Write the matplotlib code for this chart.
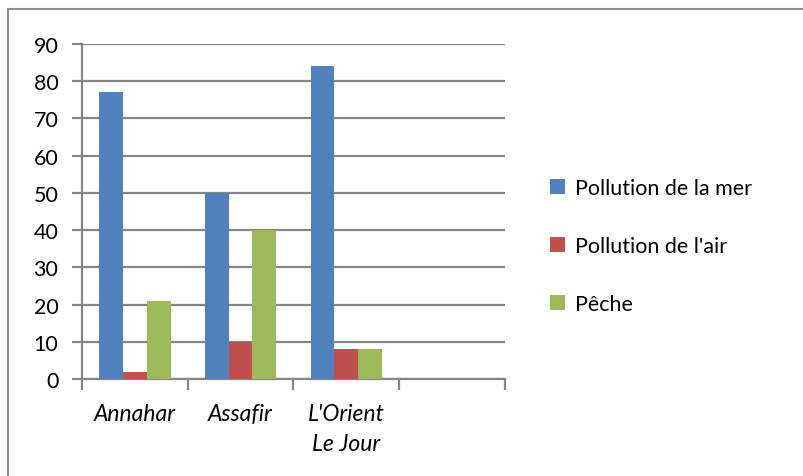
import matplotlib
matplotlib.use("Agg")
import matplotlib.pyplot as plt
import numpy as np
from matplotlib.patches import Rectangle

categories = ["Annahar", "Assafir", "L'Orient\nLe Jour", ""]
series_names = ["Pollution de la mer", "Pollution de l'air", "Pêche"]
pollution_mer = [77, 50, 84, 0]
pollution_air = [2, 10, 8, 0]
peche = [21, 40, 8, 0]
colors = ["#4F81BD", "#C0504D", "#9BBB59"]

plt.rcParams['font.family'] = ['Lato', 'DejaVu Sans']

fig = plt.figure(figsize=(8.04, 4.77), dpi=100)
ax = fig.add_axes([0.102, 0.2034, 0.526, 0.7023])

# outer chart border
fig.patches.append(Rectangle((8/804, -0.1), 1.2, 1 - 10/477 + 0.1, transform=fig.transFigure,
                             fill=False, edgecolor='#8c8c8c', linewidth=1.5))

x = np.arange(len(categories)) + 0.5
w = 0.225
vals = [pollution_mer, pollution_air, peche]
for i, (v, c, n) in enumerate(zip(vals, colors, series_names)):
    ax.bar(x + (i - 1) * w, v, width=w, color=c, label=n, zorder=3)

ax.set_xlim(0, len(categories))
ax.set_ylim(0, 90)
ax.set_yticks(range(0, 91, 10))
ax.yaxis.grid(True, color='#868686', linewidth=1.6, zorder=0)
ax.tick_params(axis='y', length=7, width=1.6, color='#868686', labelsize=15.5, pad=10)

ax.set_xticks(range(len(categories) + 1))
ax.set_xticklabels([])
ax.set_xticks(x, minor=True)
ax.set_xticklabels(categories, minor=True, style='italic', fontsize=16.5, linespacing=1.55)
ax.tick_params(axis='x', which='minor', length=0, pad=17)
ax.tick_params(axis='x', which='major', length=8, width=1.6, color='#868686')

for s in ['top', 'right']:
    ax.spines[s].set_visible(False)
for s in ['left', 'bottom']:
    ax.spines[s].set_color('#868686')
    ax.spines[s].set_linewidth(1.6)

leg = fig.legend(loc='center left', bbox_to_anchor=(550/804, 1 - 247/477), frameon=False,
                 fontsize=15.5, handlelength=0.7, handleheight=0.7, handletextpad=0.45,
                 labelspacing=1.75, borderaxespad=0, borderpad=0)

fig.savefig("out.png", dpi=100)
